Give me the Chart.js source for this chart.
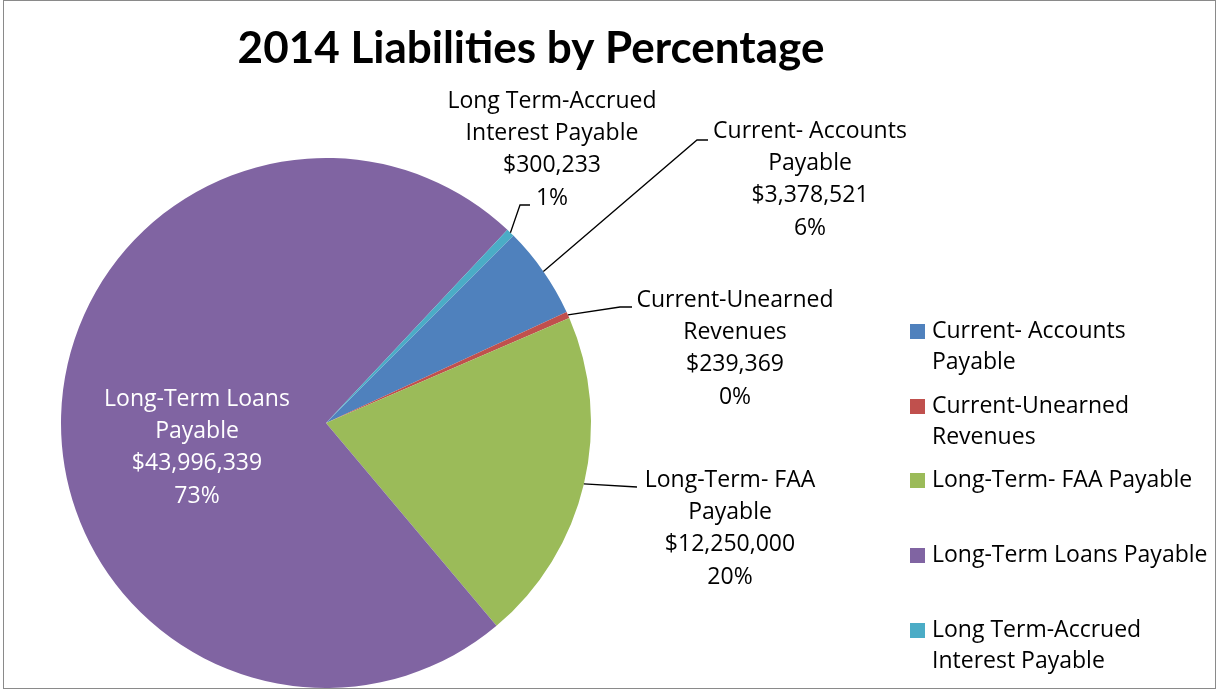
<!DOCTYPE html>
<html>
<head>
<meta charset="utf-8">
<script src="https://cdn.jsdelivr.net/npm/chart.js@4.4.0/dist/chart.umd.min.js"></script>
<style>
  html, body { margin: 0; padding: 0; background: #fff; }
  #wrap { width: 1217px; height: 689px; }
</style>
</head>
<body>
<div id="wrap"><canvas id="ctx" width="1217" height="689"></canvas></div>
<script>
const categories = [
  "Current- Accounts Payable",
  "Current-Unearned Revenues",
  "Long-Term- FAA Payable",
  "Long-Term Loans Payable",
  "Long Term-Accrued Interest Payable",
];
const amounts = [3378521, 239369, 12250000, 43996339, 300233];
const percentLabels = ["6%", "0%", "20%", "73%", "1%"];
const colors = ["#4F81BD", "#C0504D", "#9BBB59", "#8064A2", "#4BACC6"];

// wrapped text for the data labels and the legend
const labelLines = [
  ["Current- Accounts", "Payable"],
  ["Current-Unearned", "Revenues"],
  ["Long-Term- FAA", "Payable"],
  ["Long-Term Loans", "Payable"],
  ["Long Term-Accrued", "Interest Payable"],
];
const legendLines = [
  ["Current- Accounts", "Payable"],
  ["Current-Unearned", "Revenues"],
  ["Long-Term- FAA Payable"],
  ["Long-Term Loans Payable"],
  ["Long Term-Accrued", "Interest Payable"],
];

const FONT = "'Open Sans', sans-serif";
const TITLE_FONT = "Lato, sans-serif";

// label block centre (first line) and leader end, relative to the pie centre
const labelPlace = [
  { dx: 484, dy: -292, elbow: [371, -283], end: [382, -283] },
  { dx: 409, dy: -123, elbow: [294, -116], end: [306, -116] },
  { dx: 404, dy: 57, elbow: null, end: [311, 64] },
  { dx: -129, dy: -24, inside: true },
  { dx: 226, dy: -322, elbow: [194, -218], end: [204, -218] },
];

const money = (v) => "$" + v.toLocaleString("en-US");

const decor = {
  id: "decor",
  afterDraw(chart) {
    const c = chart.ctx;
    const arcs = chart.getDatasetMeta(0).data;
    const cx = arcs[0].x, cy = arcs[0].y;
    c.save();

    // frame
    c.strokeStyle = "#8a8a8a";
    c.lineWidth = 1;
    c.strokeRect(3.5, 0.5, 1212, 688);

    // title
    c.fillStyle = "#000";
    c.font = "bold 44px " + TITLE_FONT;
    c.textAlign = "center";
    c.textBaseline = "middle";
    c.fillText("2014 Liabilities by Percentage", 531, 49);

    // data labels with leader lines
    c.font = "23px " + FONT;
    arcs.forEach((arc, i) => {
      const p = labelPlace[i];
      const lines = labelLines[i].concat([money(amounts[i]), percentLabels[i]]);
      if (!p.inside) {
        const mid = (arc.startAngle + arc.endAngle) / 2;
        const sx = cx + Math.cos(mid) * arc.outerRadius;
        const sy = cy + Math.sin(mid) * arc.outerRadius;
        c.beginPath();
        c.moveTo(sx, sy);
        if (p.elbow) c.lineTo(cx + p.elbow[0], cy + p.elbow[1]);
        c.lineTo(cx + p.end[0], cy + p.end[1]);
        c.strokeStyle = "#000";
        c.lineWidth = 1.3;
        c.stroke();
      }
      c.fillStyle = p.inside ? "#fff" : "#000";
      lines.forEach((t, k) => {
        c.fillText(t, cx + p.dx, cy + p.dy + k * 32.4);
      });
    });

    // legend
    c.textAlign = "left";
    const rows = [331, 406, 480, 555, 630];
    legendLines.forEach((ls, i) => {
      c.fillStyle = colors[i];
      c.fillRect(910, rows[i] - 7, 15, 15);
      c.fillStyle = "#000";
      ls.forEach((t, k) => c.fillText(t, 932, rows[i] + k * 31.5));
    });
    c.restore();
  },
};

new Chart(document.getElementById("ctx"), {
  type: "pie",
  data: {
    labels: categories,
    datasets: [
      {
        data: amounts,
        backgroundColor: colors,
        borderWidth: 0,
      },
    ],
  },
  options: {
    responsive: false,
    animation: false,
    events: [],
    rotation: 45,
    layout: { padding: { left: 61, top: 158, right: 626, bottom: 1 } },
    plugins: {
      legend: { display: false },
      title: { display: false },
      tooltip: { enabled: false },
    },
  },
  plugins: [decor],
});
</script>
</body>
</html>
